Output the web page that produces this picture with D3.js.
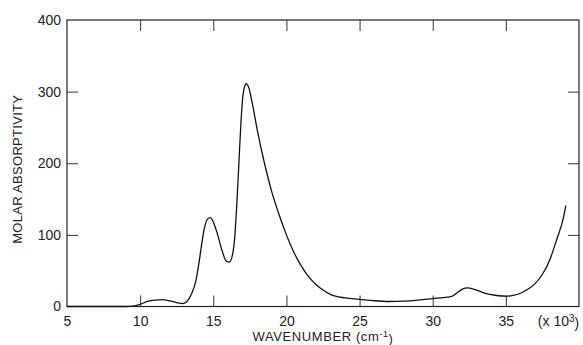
<!DOCTYPE html>
<html>
<head>
<meta charset="utf-8">
<script src="https://cdn.jsdelivr.net/npm/d3@7"></script>
<style>
  body { margin: 0; background: #fff; }
  svg text { font-family: "Liberation Sans", Arial, sans-serif; fill: #222; }
</style>
</head>
<body>
<div id="chart"></div>
<script>
// wavenumber in units of 10^3 cm-1
var wavenumber = [5, 7, 9, 9.5, 10, 10.5, 11, 11.5, 12, 12.5, 12.9, 13.2, 13.5, 13.8, 14.0, 14.2, 14.4, 14.6, 14.8, 15.0, 15.3, 15.6, 15.9, 16.1, 16.3, 16.45, 16.6, 16.75, 16.9, 17.05, 17.25, 17.4, 17.7, 18.0, 18.5, 19.0, 19.5, 20.0, 20.5, 21.0, 21.5, 22.0, 22.5, 23.0, 24.0, 25.0, 26.0, 27.0, 28.0, 29.0, 30.0, 31.0, 31.3, 31.6, 32.0, 32.4, 33.0, 33.5, 34.0, 34.5, 35.0, 35.5, 36.0, 36.5, 37.0, 37.5, 38.0, 38.5, 38.9, 39.1];
var absorptivity = [0, 0, 0, 0.5, 3, 7, 9, 9.5, 8, 5.5, 4, 7, 17, 35, 58, 86, 110, 122, 124, 118, 100, 78, 63, 62, 71, 93, 140, 200, 260, 298, 311, 307, 280, 247, 200, 160, 128, 100, 76, 57, 42, 31, 23, 17, 12, 10, 8, 7, 7.5, 9, 11, 13, 14, 18, 24, 26, 23, 19, 16.5, 15, 14.5, 15.5, 18.5, 24, 32, 45, 65, 95, 121, 141];

var xTicks = [5, 10, 15, 20, 25, 30, 35];
var yTicks = [0, 100, 200, 300, 400];

var width = 583, height = 345;
var plotLeft = 67, plotRight = 579, plotTop = 20, plotBottom = 306.5;
var tickLen = 11;

var svg = d3.select("#chart").append("svg")
    .attr("width", width)
    .attr("height", height);

var x = d3.scaleLinear().domain([5, 40]).range([plotLeft, plotRight]);
var y = d3.scaleLinear().domain([0, 400]).range([plotBottom, plotTop]);

// frame
svg.append("rect")
    .attr("x", plotLeft).attr("y", plotTop)
    .attr("width", plotRight - plotLeft).attr("height", plotBottom - plotTop)
    .attr("fill", "none").attr("stroke", "#222").attr("stroke-width", 1.2);

// bottom axis, ticks pointing inward
var xAxis = svg.append("g")
    .attr("transform", "translate(0," + plotBottom + ")")
    .call(d3.axisBottom(x).tickValues(xTicks).tickSizeInner(-tickLen).tickSizeOuter(0).tickPadding(10));

// top ticks
svg.append("g")
    .attr("transform", "translate(0," + plotTop + ")")
    .call(d3.axisTop(x).tickValues(xTicks.slice(1)).tickSizeInner(-tickLen).tickSizeOuter(0).tickFormat(""));

// left axis
var yAxis = svg.append("g")
    .attr("transform", "translate(" + plotLeft + ",0)")
    .call(d3.axisLeft(y).tickValues(yTicks).tickSizeInner(-tickLen).tickSizeOuter(0).tickPadding(6));

// right ticks
svg.append("g")
    .attr("transform", "translate(" + plotRight + ",0)")
    .call(d3.axisRight(y).tickValues(yTicks.slice(1, 4)).tickSizeInner(-tickLen).tickSizeOuter(0).tickFormat(""));

svg.selectAll(".domain").remove();
svg.selectAll(".tick line").attr("stroke", "#333").attr("stroke-width", 1);
svg.selectAll(".tick text").attr("font-size", 14).attr("fill", "#222")
    .style("font-family", "'Liberation Sans', Arial, sans-serif");
xAxis.selectAll(".tick line").filter(function(d) { return d === 5; }).remove();
yAxis.selectAll(".tick line").filter(function(d) { return d === 0 || d === 400; }).remove();

// multiplier label at the right end of x axis
var mult = svg.append("text")
    .attr("x", x(38.6))
    .attr("y", plotBottom + 10)
    .attr("dy", "0.71em")
    .attr("text-anchor", "middle")
    .attr("font-size", 14)
    .text("(x 10");
mult.append("tspan").attr("dy", "-0.45em").attr("font-size", 10).text("3");
mult.append("tspan").attr("dy", "0.45em").text(")");

// axis titles
var xLabel = svg.append("text")
    .attr("x", (plotLeft + plotRight) / 2)
    .attr("y", 341)
    .attr("text-anchor", "middle")
    .attr("font-size", 13)
    .attr("letter-spacing", "0.6px")
    .text("WAVENUMBER  (cm");
xLabel.append("tspan").attr("dy", "-0.45em").attr("font-size", 9).text("-1");
xLabel.append("tspan").attr("dy", "0.45em").text(")");

svg.append("text")
    .attr("transform", "translate(22," + ((plotTop + plotBottom) / 2 + 6) + ") rotate(-90)")
    .attr("text-anchor", "middle")
    .attr("font-size", 13)
    .attr("letter-spacing", "0.3px")
    .text("MOLAR ABSORPTIVITY");

// spectrum
var line = d3.line()
    .x(function(d, i) { return x(wavenumber[i]); })
    .y(function(d) { return y(d); })
    .curve(d3.curveMonotoneX);

svg.append("path")
    .datum(absorptivity)
    .attr("d", line)
    .attr("fill", "none")
    .attr("stroke", "#111")
    .attr("stroke-width", 1.3);
</script>
</body>
</html>
